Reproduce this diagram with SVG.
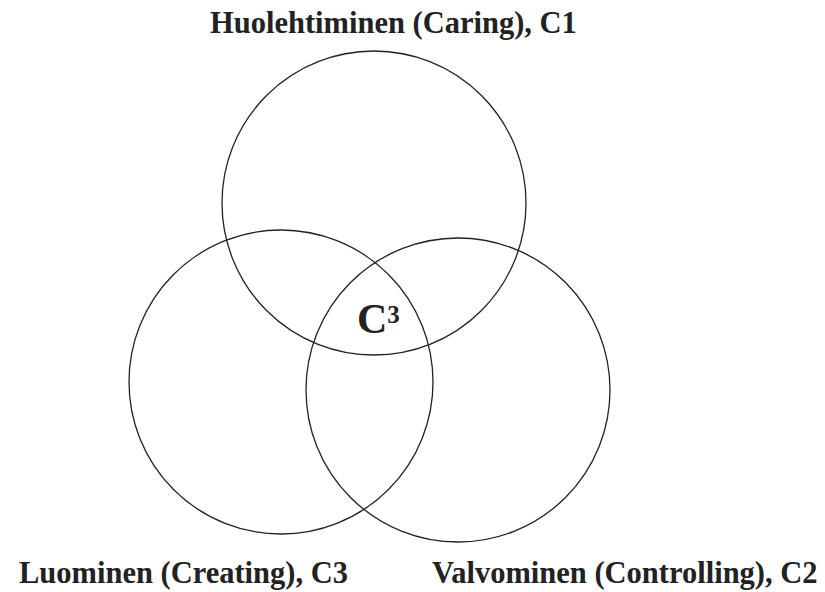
<svg xmlns="http://www.w3.org/2000/svg" width="825" height="592" viewBox="0 0 825 592">
  <style>
    .ring { fill: none; stroke: #222; stroke-width: 1.3; }
    .label { font-family: "Liberation Serif", "Times New Roman", serif; font-weight: bold; font-size: 30.5px; fill: #222; }
    .core { font-family: "Liberation Serif", "Times New Roman", serif; font-weight: bold; fill: #222; }
  </style>
  <rect width="825" height="592" fill="#fff"/>
  <g id="caring">
    <circle class="ring" cx="374" cy="203" r="152"/>
    <text class="label" x="210" y="33">Huolehtiminen (Caring), C1</text>
  </g>
  <g id="creating">
    <circle class="ring" cx="281" cy="382" r="152"/>
    <text class="label" x="348" y="583" text-anchor="end">Luominen (Creating), C3</text>
  </g>
  <g id="controlling">
    <circle class="ring" cx="458" cy="390" r="152"/>
    <text class="label" x="432" y="583">Valvominen (Controlling), C2</text>
  </g>
  <g id="c3">
    <text class="core" x="357" y="333" font-size="42">C<tspan font-size="25" dy="-10">3</tspan></text>
  </g>
</svg>
